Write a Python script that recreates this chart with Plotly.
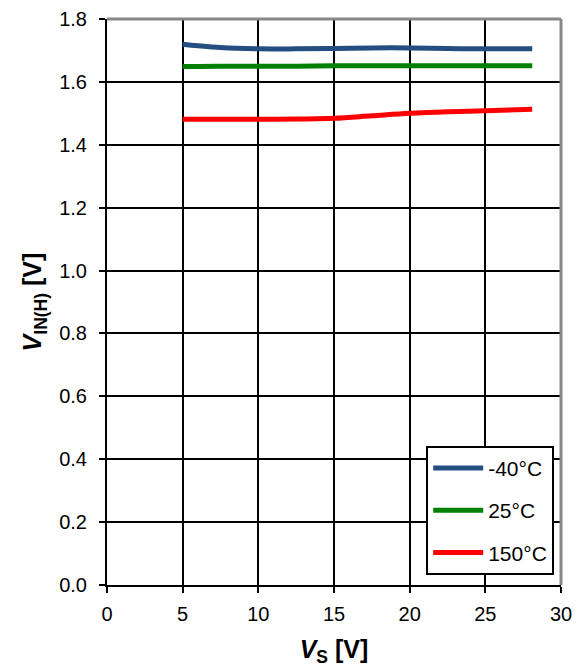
import plotly.graph_objects as go

vs = [5, 6, 7.5, 10, 12.5, 15, 17.5, 20, 22.5, 25, 28.1]
v_m40 = [1.720, 1.715, 1.709, 1.705, 1.705, 1.706, 1.708, 1.708, 1.706, 1.705, 1.705]
v_25 = [1.649, 1.649, 1.650, 1.650, 1.650, 1.651, 1.651, 1.651, 1.651, 1.651, 1.651]
v_150 = [1.481, 1.481, 1.481, 1.481, 1.482, 1.484, 1.492, 1.500, 1.505, 1.508, 1.513]

labels = ["-40°C", "25°C", "150°C"]
colors = ["#244e82", "#008000", "#ff0000"]

fig = go.Figure()
for name, ys, col in zip(labels, [v_m40, v_25, v_150], colors):
    fig.add_trace(
        go.Scatter(
            x=vs, y=ys, name=name, mode="lines", legendgroup=name,
            line=dict(color=col, width=5, shape="spline"),
        )
    )

font = "Liberation Sans, Arial, sans-serif"
# page body adds an 8px offset, so the figure is sized to fit inside the window
fig.update_layout(
    width=573,
    height=664,
    autosize=False,
    margin=dict(l=99, r=20, t=11, b=87, autoexpand=False),
    paper_bgcolor="white",
    plot_bgcolor="white",
    font=dict(family=font, size=20, color="black"),
    showlegend=True,
    legend=dict(
        x=0.985, y=0.018, xanchor="right", yanchor="bottom",
        bgcolor="white", bordercolor="black", borderwidth=2,
        font=dict(family=font, size=21, color="black"),
        tracegroupgap=12, itemwidth=50,
    ),
    xaxis=dict(
        range=[0, 30], dtick=5, showgrid=True, gridcolor="black", gridwidth=2,
        showline=True, linecolor="black", linewidth=2, mirror=False,
        ticks="outside", ticklen=6, tickwidth=2, tickcolor="black",
        zeroline=False, automargin=False, ticklabelstandoff=4,
        tickfont=dict(family=font, size=20, color="black"),
        title=dict(text="<b><i>V</i><sub>S</sub> [V]</b>",
                   font=dict(family=font, size=25, color="black"), standoff=16),
    ),
    yaxis=dict(
        range=[0, 1.8], dtick=0.2, tickformat=".1f", showgrid=True,
        gridcolor="black", gridwidth=2,
        showline=True, linecolor="black", linewidth=2,
        ticks="outside", ticklen=6, tickwidth=2, tickcolor="black",
        zeroline=False, automargin=False, ticklabelstandoff=8,
        ticklabeloverflow="allow",
        tickfont=dict(family=font, size=20, color="black"),
        title=dict(text="<b><i>V</i><sub>IN(H)</sub> [V]</b>",
                   font=dict(family=font, size=25, color="black"), standoff=10),
    ),
)
# grey frame on top and right
fig.add_shape(type="line", xref="paper", yref="paper", x0=0, x1=1, y0=1, y1=1,
              line=dict(color="#888888", width=3))
fig.add_shape(type="line", xref="paper", yref="paper", x0=1, x1=1, y0=0, y1=1,
              line=dict(color="#888888", width=3))

fig.write_html("out.html")
